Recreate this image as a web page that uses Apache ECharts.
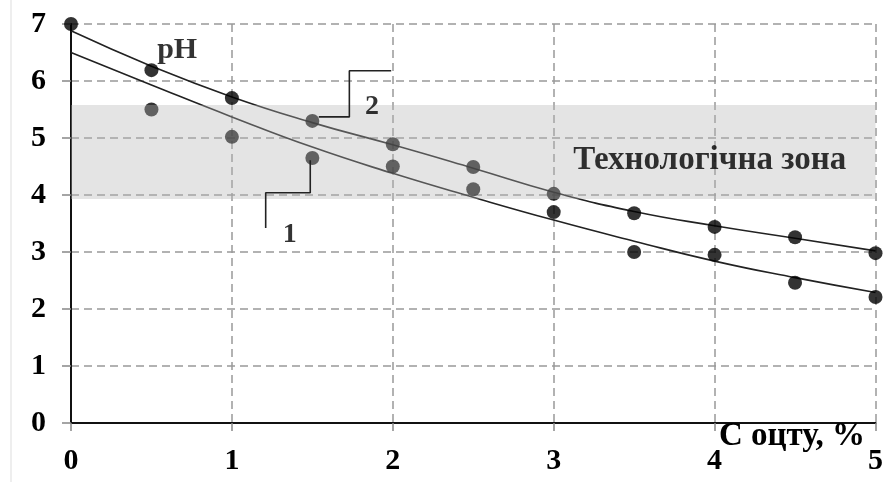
<!DOCTYPE html>
<html><head><meta charset="utf-8">
<script src="https://cdn.jsdelivr.net/npm/echarts@6/dist/echarts.min.js"></script>
<style>html,body{margin:0;padding:0;background:#fff}#c{width:886px;height:482px}</style>
</head><body><div id="c"></div>
<script>
// Measured points
const xPts2 = [0, 0.5, 1, 1.5, 2, 2.5, 3, 3.5, 4, 4.5, 5];
const ph2   = [7.0, 6.19, 5.70, 5.30, 4.89, 4.49, 4.02, 3.68, 3.44, 3.26, 2.98];
const xPts1 = [0.5, 1, 1.5, 2, 2.5, 3, 3.5, 4, 4.5, 5];
const ph1   = [5.50, 5.02, 4.65, 4.50, 4.10, 3.70, 3.00, 2.95, 2.46, 2.21];
// Trend curves
const xTrend = [0, 0.5, 1, 1.5, 2, 2.5, 3, 3.5, 4, 4.5, 5];
const trend2 = [6.88, 6.26, 5.72, 5.27, 4.88, 4.47, 4.05, 3.71, 3.46, 3.24, 3.02];
const trend1 = [6.50, 5.93, 5.37, 4.84, 4.38, 3.96, 3.56, 3.19, 2.84, 2.55, 2.29];
// Technological zone
const zoneX = [0, 5];
const zoneY = [3.93, 5.58];
// Leader lines for labels
const leader2 = [[1.54, 5.37], [1.73, 5.37], [1.73, 6.18], [1.99, 6.18]];
const leader1 = [[1.487, 4.61], [1.487, 4.04], [1.21, 4.04], [1.21, 3.42]];
const notes = [
  {x: 1.87, y: 5.54, text: '2', size: 28},
  {x: 1.36, y: 3.30, text: '1', size: 28},
  {x: 0.66, y: 6.54, text: 'pH', size: 30},
  {x: 3.97, y: 4.60, text: 'Технологічна зона', size: 33}
];
const xTicks = [0, 1, 2, 3, 4, 5];
const yTicks = [0, 1, 2, 3, 4, 5, 6, 7];
const xName = 'C оцту, %';

const FONT = '"Liberation Serif", "DejaVu Serif", serif';
const pair = (xs, ys) => xs.map((x, i) => [x, ys[i]]);

const chart = echarts.init(document.getElementById('c'));
const frameAxis = {show: true, lineStyle: {color: '#111', width: 2}};
chart.setOption({
  animation: false,
  backgroundColor: '#fff',
  grid: {left: 71, right: 8, top: 24, bottom: 59},
  xAxis: [{
    type: 'value', min: xTicks[0], max: xTicks[xTicks.length - 1], interval: 1,
    axisLine: {show: true, onZero: false, lineStyle: {color: '#888', width: 2}},
    axisTick: {show: true, length: 8, lineStyle: {color: '#888', width: 1.5}},
    axisLabel: {margin: 23, color: '#000', fontFamily: FONT, fontWeight: 'bold', fontSize: 30},
    splitLine: {show: true, lineStyle: {color: '#999', type: [8, 5], width: 1.5}}
  }, {
    type: 'value', position: 'top', min: xTicks[0], max: xTicks[xTicks.length - 1], interval: 1,
    axisLine: frameAxis, axisTick: {show: false}, axisLabel: {show: false}, splitLine: {show: false}
  }],
  yAxis: [{
    type: 'value', min: yTicks[0], max: yTicks[yTicks.length - 1], interval: 1,
    axisLine: {show: true, onZero: false, lineStyle: {color: '#888', width: 2}},
    axisTick: {show: true, length: 9, lineStyle: {color: '#888', width: 1.5}},
    axisLabel: {margin: 25, color: '#000', fontFamily: FONT, fontWeight: 'bold', fontSize: 30},
    splitLine: {show: true, lineStyle: {color: '#999', type: [8, 5], width: 1.5}}
  }, {
    type: 'value', position: 'right', min: yTicks[0], max: yTicks[yTicks.length - 1], interval: 1,
    axisLine: frameAxis, axisTick: {show: false}, axisLabel: {show: false}, splitLine: {show: false}
  }],
  graphic: [
    {type: 'line', shape: {x1: 11, y1: 0, x2: 11, y2: 482}, style: {stroke: '#ddd', lineWidth: 1}},
    {type: 'text', left: 719, top: 420, z: 20, style: {text: xName, font: 'bold 33px ' + FONT, fill: '#000'}}
  ],
  series: [
    {type: 'line', data: pair(xTrend, trend2), smooth: true, symbol: 'none', z: 3,
     lineStyle: {color: '#222', width: 1.6}},
    {type: 'line', data: pair(xTrend, trend1), smooth: true, symbol: 'none', z: 3,
     lineStyle: {color: '#222', width: 1.6}},
    {type: 'scatter', data: pair(xPts2, ph2), symbolSize: 14, z: 4, itemStyle: {color: '#000'}},
    {type: 'scatter', data: pair(xPts1, ph1), symbolSize: 14, z: 4, itemStyle: {color: '#000'}},
    {type: 'custom', z: 6, silent: true,
     data: [[zoneX[0], zoneY[0], zoneX[1], zoneY[1]]],
     renderItem: function (params, api) {
       const p0 = api.coord([api.value(0), api.value(3)]);
       const p1 = api.coord([api.value(2), api.value(1)]);
       return {type: 'rect', shape: {x: p0[0], y: p0[1], width: p1[0] - p0[0], height: p1[1] - p0[1]},
               style: {fill: 'rgba(179,179,179,0.36)'}};
     }},
    {type: 'line', data: leader2, symbol: 'none', z: 7, lineStyle: {color: '#222', width: 1.6}},
    {type: 'line', data: leader1, symbol: 'none', z: 7, lineStyle: {color: '#222', width: 1.6}},
    {type: 'scatter', z: 10, symbolSize: 0, silent: true,
     data: notes.map(n => ({value: [n.x, n.y], name: n.text,
       label: {fontSize: n.size}})),
     label: {show: true, position: 'inside', formatter: p => p.name, color: '#000',
             fontFamily: FONT, fontWeight: 'bold'}}
  ]
});
</script></body></html>
